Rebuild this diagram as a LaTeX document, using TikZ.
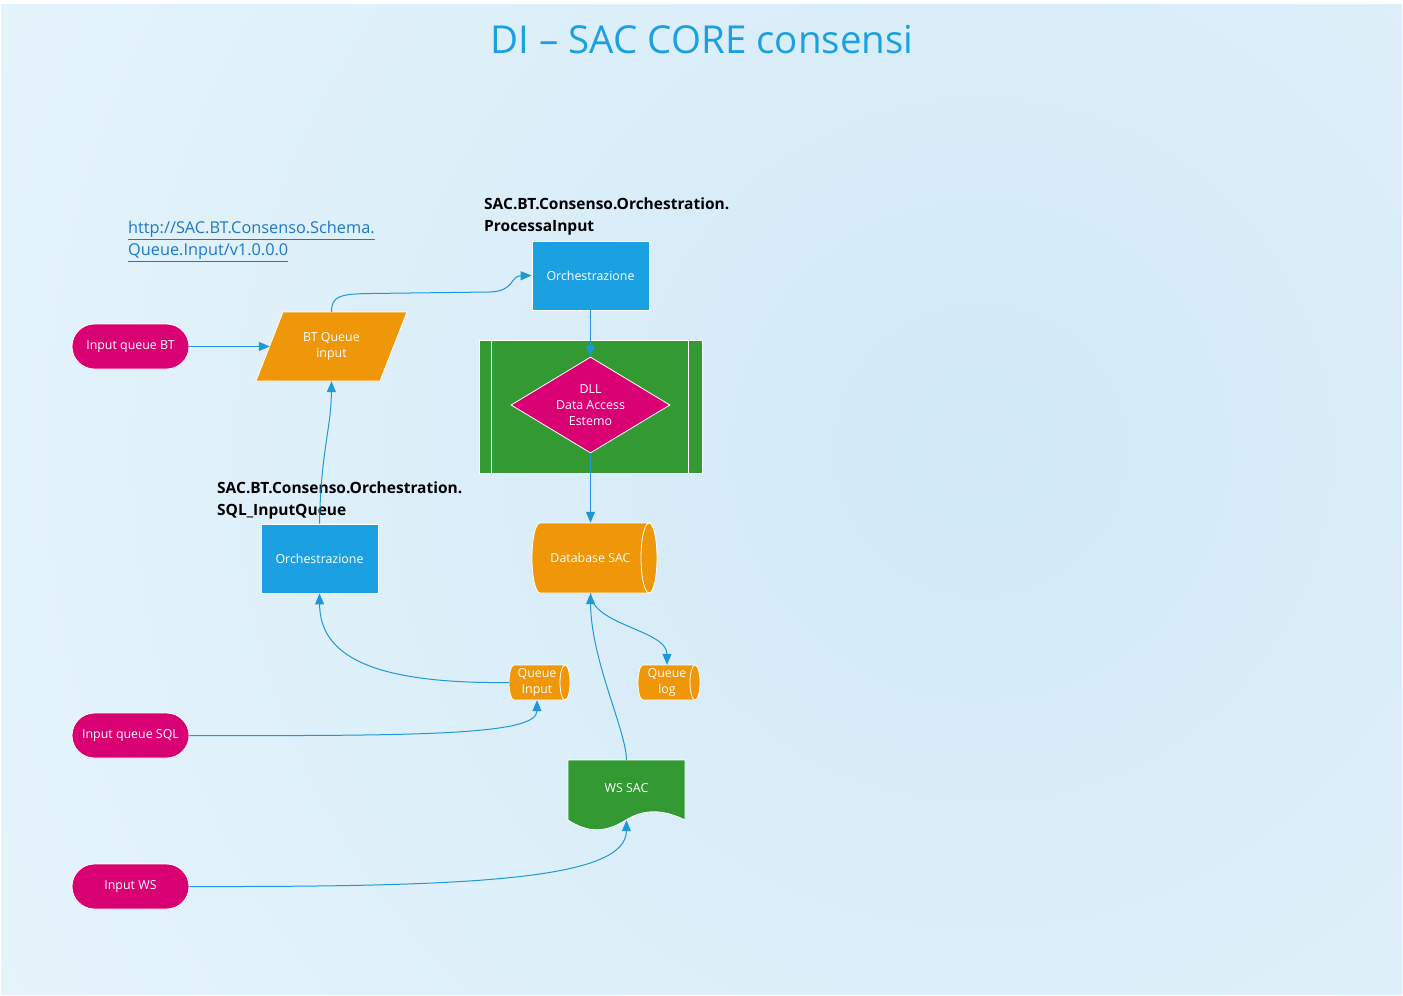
\documentclass[tikz,border=0pt]{standalone}
\usepackage{fontspec}
\setmainfont{Open Sans}
\usetikzlibrary{arrows.meta,shapes.geometric,calc}
\pgfdeclarelayer{background}
\pgfsetlayers{background,main}
\definecolor{cblue}{HTML}{1BA1E2}
\definecolor{cmag}{HTML}{D80073}
\definecolor{corange}{HTML}{F09609}
\definecolor{cgreen}{HTML}{339933}
\definecolor{cline}{HTML}{1E98D8}
\definecolor{clink}{HTML}{1E78C8}
\definecolor{bgin}{HTML}{D2E9F7}
\definecolor{bgout}{HTML}{E9F6FC}
\newcommand\mycyl[5]{%
  \filldraw[fill=corange, draw=white, line width=0.8pt] (#1+#5,#3-#4) -- (#2-#5,#3-#4) arc[start angle=-90,end angle=90,x radius=#5,y radius=#4] -- (#1+#5,#3+#4) arc[start angle=90,end angle=270,x radius=#5,y radius=#4] -- cycle;
  \draw[white, line width=0.8pt] (#2-#5,#3-#4) arc[start angle=270,end angle=90,x radius=#5,y radius=#4];
}
\begin{document}
\begin{tikzpicture}[x=1pt,y=-1pt,
  txt/.style={text=white, font=\fontsize{12.4}{16}\selectfont, align=center, inner sep=0pt},
  box/.style={txt, rectangle, fill=cblue, draw=white, line width=0.8pt, minimum width=117pt, minimum height=69pt},
  term/.style={txt, rectangle, rounded corners=22.5pt, fill=cmag, draw=white, line width=0.8pt, minimum width=117pt, minimum height=45pt},
  anch/.style={txt, rectangle},
  conn/.style={draw=cline, line width=1pt, -{Triangle[length=11pt,width=9pt]}},
  lbl/.style={font=\bfseries\fontsize{15.5}{22}\selectfont, align=left, anchor=north west, inner sep=0pt, text=black}]
\useasboundingbox (0,0) rectangle (1403,996);
\begin{pgfonlayer}{background}
\fill[white] (0,0) rectangle (1403,996);
\begin{scope}
  \clip (1,4) rectangle (1402,994);
  \fill[bgout] (1,4) rectangle (1402,994);
  \shade[inner color=bgin, outer color=bgout] (980,450) circle (1300);
\end{scope}
\end{pgfonlayer}

\node[font=\fontsize{38.5}{44}\selectfont, text=cblue, inner sep=0pt] (title) at (702,40) {DI – SAC CORE consensi};
\node[anchor=north west, inner sep=0pt, font=\fontsize{16.3}{22}\selectfont, text=clink, align=left] (link) at (128,221) {\underline{http://SAC.BT.Consenso.Schema.}\\\underline{Queue.Input/v1.0.0.0}};
\node[lbl] (lab1) at (484,198) {SAC.BT.Consenso.Orchestration.\\ProcessaInput};
\node[lbl] (lab2) at (217,482) {SAC.BT.Consenso.Orchestration.\\SQL\_InputQueue};

\node[term] (inBT) at (130.5,346.5) {Input queue BT};
\node[term] (inSQL) at (130.5,735.5) {Input queue SQL};
\node[term] (inWS) at (130.5,886.5) {Input WS};

\node[box] (orch1) at (590.5,275.5) {Orchestrazione};
\node[box] (orch2) at (319.5,558.5) {Orchestrazione};

\node[anch, minimum width=123pt, minimum height=69pt] (btq) at (331.5,346.5) {BT Queue\\input};

\node[rectangle, fill=cgreen, draw=white, line width=0.8pt, minimum width=223pt, minimum height=133pt] (pp) at (590.5,406.5) {};
\draw[white, line width=0.8pt] ($(pp.north west)+(13,0)$) -- ($(pp.south west)+(13,0)$);
\draw[white, line width=0.8pt] ($(pp.north east)+(-14,0)$) -- ($(pp.south east)+(-14,0)$);
\node[txt, diamond, fill=cmag, draw=white, line width=0.8pt, aspect=1.66, minimum width=159pt, minimum height=96pt] (dll) at (590.5,405) {DLL\\Data Access\\Estemo};

\node[anch, minimum width=117pt, minimum height=70pt] (db) at (590.5,558) {Database SAC};
\node[anch, minimum width=56pt, minimum height=35pt] (qin) at (537,682.5) {Queue\\Input};
\node[anch, minimum width=58pt, minimum height=35pt] (qlog) at (667,682.5) {Queue\\log};
\node[anch, minimum width=117pt, minimum height=60pt] (ws) at (626.5,790) {\raisebox{5pt}{WS SAC}};

\begin{pgfonlayer}{background}
  \filldraw[fill=corange, draw=white, line width=0.8pt] (283,312) -- (407,312) -- (380,381) -- (256,381) -- cycle;
  \mycyl{532}{657}{558}{35}{8}
  \mycyl{509}{570}{682.5}{17.5}{5}
  \mycyl{638}{700}{682.5}{17.5}{5}
  \filldraw[fill=cgreen, draw=white, line width=0.8pt] (568,760) -- (685,760) -- (685,820) .. controls (665,810) and (645,808) .. (626,820) .. controls (605,833) and (588,833) .. (568,820) -- cycle;
\end{pgfonlayer}

\draw[conn] (inBT.east) -- (btq.west);
\draw[conn] (btq.north) .. controls (331.5,296) and (340,294) .. (370,293.5) -- (490,292) .. controls (515,291) and (510,276) .. (orch1.west);
\draw[conn] (orch2.north) .. controls (321,450) and (331,430) .. (btq.south);
\draw[conn] (orch1.south) -- (dll.north);
\draw[conn] (dll.south) -- (db.north);
\draw[conn] (qin.west) .. controls (370,684) and (320,655) .. (orch2.south);
\draw[conn] (inSQL.east) .. controls (420,736) and (537,735) .. (qin.south);
\draw[conn] (db.south) .. controls (591,625) and (667,630) .. (qlog.north);
\draw[conn] (ws.north) .. controls (626,730) and (591,660) .. (db.south);
\draw[conn] (inWS.east) .. controls (470,887) and (626,880) .. (ws.south);
\end{tikzpicture}
\end{document}
